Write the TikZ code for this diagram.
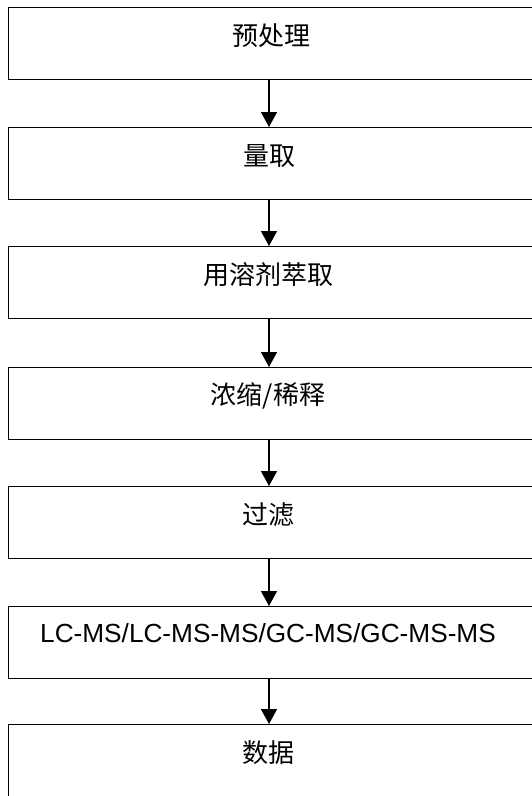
\documentclass[tikz,border=0pt]{standalone}
\usepackage{fontspec}
\setmainfont{Liberation Sans}
\newfontfamily\cjk{Noto Sans CJK SC}
\usetikzlibrary{arrows.meta}
\begin{document}
\begin{tikzpicture}[x=1bp,y=-1bp,
  stepbox/.style={draw=black,line width=1.4bp,rectangle,inner sep=0pt,minimum width=532bp,anchor=north west},
  lbl/.style={inner sep=0pt,font=\fontsize{26bp}{28bp}\selectfont},
  arr/.style={line width=1.4bp,-{Triangle[width=16bp,length=15bp]}}]
\useasboundingbox (0,0) rectangle (532,796);
\clip (0,0) rectangle (532,796);
\fill[white] (0,0) rectangle (532,796);
\coordinate (ax) at (269,0);
\node[stepbox,minimum height=72bp] (b1) at (8,7) {};
\node[stepbox,minimum height=72bp] (b2) at (8,127) {};
\node[stepbox,minimum height=72bp] (b3) at (8,246) {};
\node[stepbox,minimum height=72bp] (b4) at (8,367) {};
\node[stepbox,minimum height=72bp] (b5) at (8,486) {};
\node[stepbox,minimum height=72bp] (b6) at (8,606) {};
\node[stepbox,minimum height=90bp] (b7) at (8,724) {};
\node[lbl] (t1) at (271,36) {\cjk 预处理};
\node[lbl] (t2) at (269,156) {\cjk 量取};
\node[lbl] (t3) at (268,275) {\cjk 用溶剂萃取};
\node[lbl] (t4) at (268,396) {\cjk 浓缩/稀释};
\node[lbl] (t5) at (268,515) {\cjk 过滤};
\node[lbl,font=\fontsize{26.2bp}{28bp}\selectfont] (t6) at (268,633) {LC-MS/LC-MS-MS/GC-MS/GC-MS-MS};
\node[lbl] (t7) at (268,753) {\cjk 数据};
\draw[arr] (b1.south -| ax) -- (b2.north -| ax);
\draw[arr] (b2.south -| ax) -- (b3.north -| ax);
\draw[arr] (b3.south -| ax) -- (b4.north -| ax);
\draw[arr] (b4.south -| ax) -- (b5.north -| ax);
\draw[arr] (b5.south -| ax) -- (b6.north -| ax);
\draw[arr] (b6.south -| ax) -- (b7.north -| ax);
\end{tikzpicture}
\end{document}
